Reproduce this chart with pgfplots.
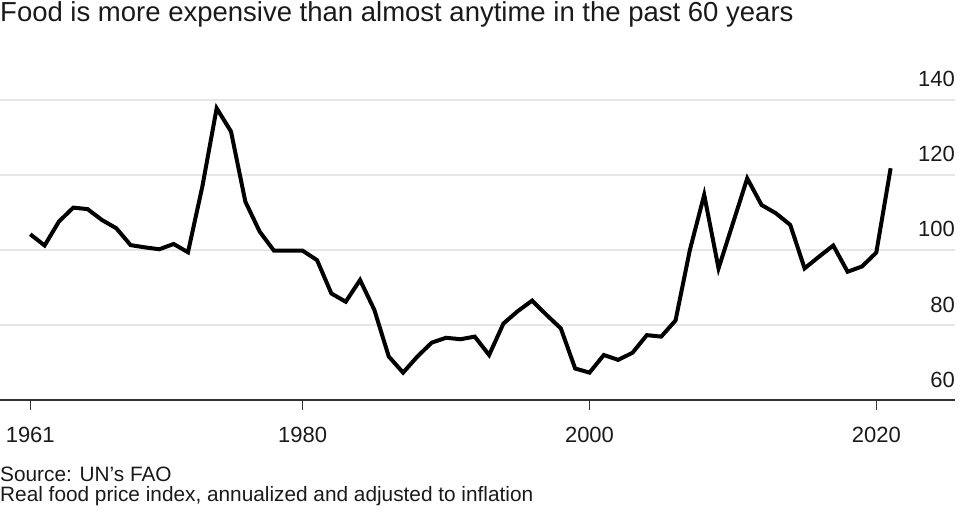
\documentclass[border=0pt]{standalone}
\usepackage{pgfplots}
\pgfplotsset{compat=1.18}
\usepackage{fontspec}
\setmainfont{Liberation Sans}

\definecolor{gridgray}{HTML}{E6E6E6}
\definecolor{axisgray}{HTML}{333333}
\definecolor{txt}{HTML}{1A1A1A}

\begin{document}
\begin{tikzpicture}
	\path[use as bounding box] (0pt,0pt) rectangle (962pt,512pt);

	% title and notes
	\node[anchor=base west, inner sep=0pt, text=txt, font=\fontsize{27.5}{30}\selectfont]
		at (0pt,490.3pt) {Food is more expensive than almost anytime in the past 60 years};
	\node[anchor=base west, inner sep=0pt, text=txt, font=\fontsize{20.8}{20}\selectfont]
		at (0pt,30.3pt) {Source: UN's FAO};
	\node[anchor=base west, inner sep=0pt, text=txt, font=\fontsize{20.8}{20}\selectfont]
		at (0pt,10.5pt) {Real food price index, annualized and adjusted to inflation};

	\begin{axis}[
			at={(0pt,112pt)}, anchor=south west,
			scale only axis,
			width=955pt, height=300pt,
			xmin=1958.89, xmax=2025.49,
			ymin=60, ymax=140,
			axis x line*=bottom,
			axis y line*=right,
			y axis line style={draw=none},
			x axis line style={color=axisgray, line width=1.2pt},
			xtick={1961,1980,2000,2020},
			ytick={60,80,100,120,140},
			tick align=outside,
			major tick length=10pt,
			xtick style={color=axisgray, line width=1.2pt},
			ytick style={draw=none},
			ymajorgrids,
			grid style={color=gridgray, line width=2pt},
			/pgf/number format/assume math mode=true,
			/pgf/number format/1000 sep={},
			ticklabel style={font=\fontsize{22}{24}\selectfont, text=txt},
			xticklabel style={anchor=base, yshift=-32pt, inner sep=0pt},
			yticklabel style={anchor=base east, yshift=13pt, xshift=-10pt, inner sep=0pt},
		]

		% real food price index, yearly
		\addplot[black, line width=4pt, line join=miter] coordinates {
				(1961,104.2) (1962,101.2) (1963,107.6) (1964,111.3) (1965,110.9)
				(1966,108.0) (1967,105.8) (1968,101.3) (1969,100.7) (1970,100.2)
				(1971,101.6) (1972,99.4) (1973,116.9) (1974,137.8) (1975,131.6)
				(1976,112.9) (1977,104.9) (1978,99.8) (1979,99.8) (1980,99.8)
				(1981,97.3) (1982,88.4) (1983,86.2) (1984,92.0) (1985,84.0)
				(1986,71.6) (1987,67.3) (1988,71.6) (1989,75.3) (1990,76.6)
				(1991,76.2) (1992,76.9) (1993,72.0) (1994,80.4) (1995,83.7)
				(1996,86.5) (1997,82.7) (1998,79.1) (1999,68.4) (2000,67.3)
				(2001,72.0) (2002,70.7) (2003,72.6) (2004,77.3) (2005,76.9)
				(2006,81.2) (2007,100.0) (2008,114.7) (2009,95.1) (2010,107.1)
				(2011,119.1) (2012,112.0) (2013,109.8) (2014,106.7) (2015,95.1)
				(2016,98.2) (2017,101.2) (2018,94.2) (2019,95.6) (2020,99.3)
				(2021,121.8)
			};

	\end{axis}
\end{tikzpicture}
\end{document}
